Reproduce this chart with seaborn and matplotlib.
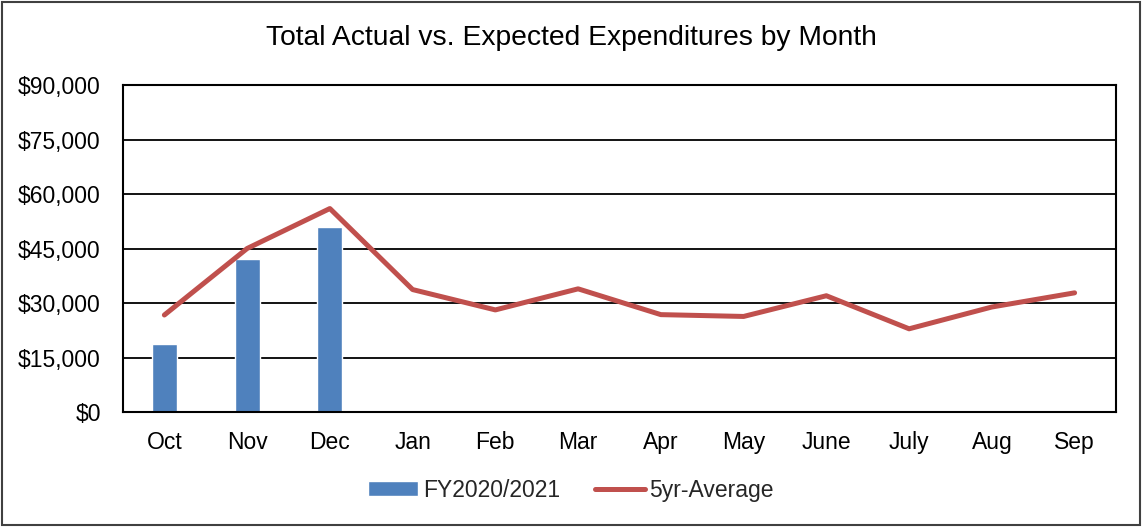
import matplotlib
matplotlib.use("Agg")
import matplotlib.pyplot as plt
import seaborn as sns
import numpy as np
import pandas as pd
from matplotlib.ticker import FuncFormatter, MultipleLocator
from matplotlib.patches import Rectangle

months = ["Oct", "Nov", "Dec", "Jan", "Feb", "Mar", "Apr", "May", "June", "July", "Aug", "Sep"]
actual_months = ["Oct", "Nov", "Dec"]
actual_values = [18600, 42100, 50900]
avg_values = [26700, 45000, 56000, 33700, 28100, 33900, 26800, 26300, 32000, 22900, 28900, 32800]

sns.set_theme(style="white")
plt.rcParams['font.family'] = ['Liberation Sans', 'DejaVu Sans']

fig = plt.figure(figsize=(11.42, 5.27), dpi=100)
ax = fig.add_axes([0.1077, 0.2182, 0.8695, 0.6205])

bar_df = pd.DataFrame({"month": actual_months, "value": actual_values})
sns.barplot(data=bar_df, x="month", y="value", order=months, color="#4F81BD",
            saturation=1, width=0.3, ax=ax, label="FY2020/2021")

line_df = pd.DataFrame({"pos": np.arange(len(months)), "value": avg_values})
sns.lineplot(data=line_df, x="pos", y="value", color="#C0504D", linewidth=3.6,
             ax=ax, label="5yr-Average")

ax.set_xlim(-0.5, len(months) - 0.5)
ax.set_ylim(0, 90000)
ax.yaxis.set_major_locator(MultipleLocator(15000))
ax.yaxis.set_major_formatter(FuncFormatter(lambda v, p: f"${v:,.0f}"))
ax.set_xticks(np.arange(len(months)))
ax.set_xticklabels(months)
ax.set_xlabel("")
ax.set_ylabel("")
ax.grid(axis="y", color="black", linewidth=1.3)
ax.set_axisbelow(True)
for s in ax.spines.values():
    s.set_color("black")
    s.set_linewidth(1.5)
ax.tick_params(axis="both", length=0, labelsize=16.5, colors="black")
ax.tick_params(axis="y", pad=16)
ax.tick_params(axis="x", pad=14)

fig.text(0.5, 0.928, "Total Actual vs. Expected Expenditures by Month", ha="center",
         va="center", fontsize=20.3, color="black")

handles, labels = ax.get_legend_handles_labels()
order = [labels.index("FY2020/2021"), labels.index("5yr-Average")]
ax.legend([handles[i] for i in order], [labels[i] for i in order], loc="center",
          bbox_to_anchor=(0.5, 0.07), bbox_transform=fig.transFigure, ncol=2,
          frameon=False, fontsize=16.5, handlelength=2.2, handleheight=0.6,
          handletextpad=0.2, columnspacing=1.5)

fig.add_artist(Rectangle((0.002, 0.003), 0.996, 0.994, transform=fig.transFigure,
                         fill=False, edgecolor="#404040", linewidth=1.5))

fig.savefig("out.png", dpi=100)
